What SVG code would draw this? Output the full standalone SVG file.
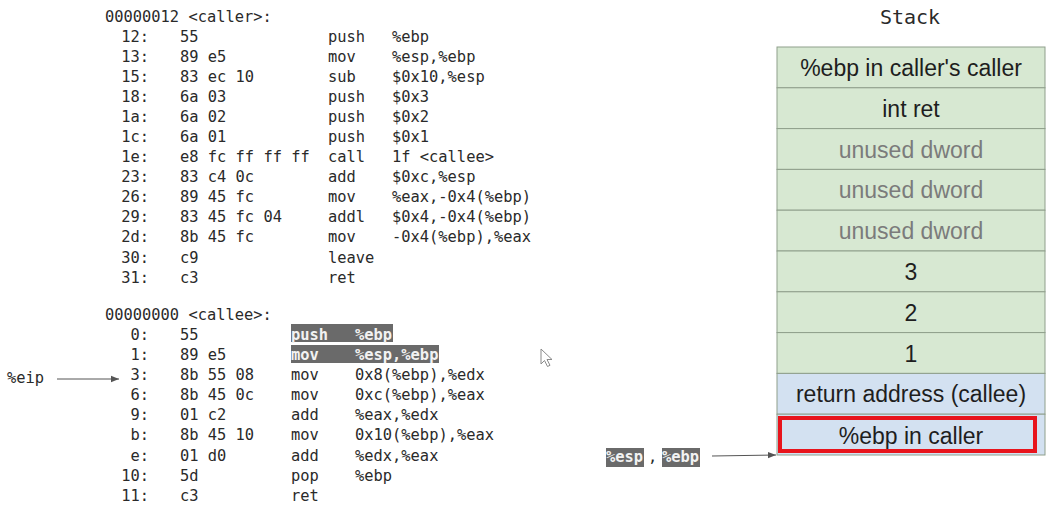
<svg xmlns="http://www.w3.org/2000/svg" width="1053" height="508" viewBox="0 0 1053 508">
<defs>
<style>
.code{font-family:"DejaVu Sans Mono","Liberation Mono",monospace;font-size:15.4px;fill:#2a2a2a}
.addr{text-anchor:end}
.hl{fill:#6a6a6a}
.hlt{fill:#f2f2f2;font-weight:bold}
.cell{stroke:#8f9f8c;stroke-width:1}
.g{fill:#d7e8d2}
.b{fill:#d3e1f1}
.st{font-family:"Liberation Sans",Arial,sans-serif;font-size:23px;fill:#1e1e1e;text-anchor:middle}
.un{fill:#7b7b7b}
.conn{stroke:#555;stroke-width:1;fill:none}
</style>
<marker id="ah" viewBox="0 0 10 10" refX="10" refY="5" markerWidth="8" markerHeight="8" markerUnits="userSpaceOnUse" orient="auto">
<path d="M0,1 L10,5 L0,9 z" fill="#555"/>
</marker>
</defs>
<rect width="1053" height="508" fill="#ffffff"/>

<g id="caller-code" class="code">
<text x="105" y="22">00000012 &lt;caller&gt;:</text>
<text class="addr" x="149" y="42">12:</text><text x="180" y="42">55</text><text x="328" y="42">push</text><text x="392" y="42">%ebp</text>
<text class="addr" x="149" y="62">13:</text><text x="180" y="62">89 e5</text><text x="328" y="62">mov</text><text x="392" y="62">%esp,%ebp</text>
<text class="addr" x="149" y="82">15:</text><text x="180" y="82">83 ec 10</text><text x="328" y="82">sub</text><text x="392" y="82">$0x10,%esp</text>
<text class="addr" x="149" y="102">18:</text><text x="180" y="102">6a 03</text><text x="328" y="102">push</text><text x="392" y="102">$0x3</text>
<text class="addr" x="149" y="122">1a:</text><text x="180" y="122">6a 02</text><text x="328" y="122">push</text><text x="392" y="122">$0x2</text>
<text class="addr" x="149" y="142">1c:</text><text x="180" y="142">6a 01</text><text x="328" y="142">push</text><text x="392" y="142">$0x1</text>
<text class="addr" x="149" y="162">1e:</text><text x="180" y="162">e8 fc ff ff ff</text><text x="328" y="162">call</text><text x="392" y="162">1f &lt;callee&gt;</text>
<text class="addr" x="149" y="182">23:</text><text x="180" y="182">83 c4 0c</text><text x="328" y="182">add</text><text x="392" y="182">$0xc,%esp</text>
<text class="addr" x="149" y="202">26:</text><text x="180" y="202">89 45 fc</text><text x="328" y="202">mov</text><text x="392" y="202">%eax,-0x4(%ebp)</text>
<text class="addr" x="149" y="222">29:</text><text x="180" y="222">83 45 fc 04</text><text x="328" y="222">addl</text><text x="392" y="222">$0x4,-0x4(%ebp)</text>
<text class="addr" x="149" y="242">2d:</text><text x="180" y="242">8b 45 fc</text><text x="328" y="242">mov</text><text x="392" y="242">-0x4(%ebp),%eax</text>
<text class="addr" x="149" y="263">30:</text><text x="180" y="263">c9</text><text x="328" y="263">leave</text>
<text class="addr" x="149" y="283">31:</text><text x="180" y="283">c3</text><text x="328" y="283">ret</text>
</g>

<g id="callee-code" class="code">
<text x="105" y="320">00000000 &lt;callee&gt;:</text>
<rect class="hl" x="291" y="324" width="102" height="18"/>
<rect class="hl" x="291" y="345" width="148" height="18"/>
<text class="addr" x="149" y="340">0:</text><text x="180" y="340">55</text><text class="hlt" x="291" y="340">push</text><text class="hlt" x="355" y="340">%ebp</text>
<text class="addr" x="149" y="360">1:</text><text x="180" y="360">89 e5</text><text class="hlt" x="291" y="360">mov</text><text class="hlt" x="355" y="360">%esp,%ebp</text>
<text class="addr" x="149" y="380">3:</text><text x="180" y="380">8b 55 08</text><text x="291" y="380">mov</text><text x="355" y="380">0x8(%ebp),%edx</text>
<text class="addr" x="149" y="400">6:</text><text x="180" y="400">8b 45 0c</text><text x="291" y="400">mov</text><text x="355" y="400">0xc(%ebp),%eax</text>
<text class="addr" x="149" y="420">9:</text><text x="180" y="420">01 c2</text><text x="291" y="420">add</text><text x="355" y="420">%eax,%edx</text>
<text class="addr" x="149" y="440">b:</text><text x="180" y="440">8b 45 10</text><text x="291" y="440">mov</text><text x="355" y="440">0x10(%ebp),%eax</text>
<text class="addr" x="149" y="461">e:</text><text x="180" y="461">01 d0</text><text x="291" y="461">add</text><text x="355" y="461">%edx,%eax</text>
<text class="addr" x="149" y="481">10:</text><text x="180" y="481">5d</text><text x="291" y="481">pop</text><text x="355" y="481">%ebp</text>
<text class="addr" x="149" y="501">11:</text><text x="180" y="501">c3</text><text x="291" y="501">ret</text>
</g>

<g id="eip-label" class="code">
<text x="7" y="383">%eip</text>
</g>

<g id="esp-ebp-label" class="code">
<rect class="hl" x="606" y="448" width="38" height="19"/>
<rect class="hl" x="662" y="448" width="38" height="19"/>
<text class="hlt" x="606" y="462">%esp</text>
<text x="648" y="462">,</text>
<text class="hlt" x="662" y="462">%ebp</text>
</g>

<g id="stack-title">
<text x="910" y="24" font-family="DejaVu Sans Mono,Liberation Mono,monospace" font-size="20" fill="#2a2a2a" text-anchor="middle">Stack</text>
</g>

<g id="stack">
<g id="row-ebp-callers-caller"><rect class="cell g" x="777" y="47" width="268" height="40.8"/><text class="st" x="911" y="76">%ebp in caller's caller</text></g>
<g id="row-int-ret"><rect class="cell g" x="777" y="87.8" width="268" height="40.8"/><text class="st" x="911" y="117">int ret</text></g>
<g id="row-unused-1"><rect class="cell g" x="777" y="128.6" width="268" height="40.8"/><text class="st un" x="911" y="157.5">unused dword</text></g>
<g id="row-unused-2"><rect class="cell g" x="777" y="169.4" width="268" height="40.8"/><text class="st un" x="911" y="198.3">unused dword</text></g>
<g id="row-unused-3"><rect class="cell g" x="777" y="210.2" width="268" height="40.8"/><text class="st un" x="911" y="239.1">unused dword</text></g>
<g id="row-3"><rect class="cell g" x="777" y="251" width="268" height="40.8"/><text class="st" x="911" y="279.9">3</text></g>
<g id="row-2"><rect class="cell g" x="777" y="291.8" width="268" height="40.8"/><text class="st" x="911" y="320.7">2</text></g>
<g id="row-1"><rect class="cell g" x="777" y="332.6" width="268" height="40.8"/><text class="st" x="911" y="361.5">1</text></g>
<g id="row-return-address"><rect class="cell b" x="777" y="373.4" width="268" height="40.8"/><text class="st" x="911" y="402.3">return address (callee)</text></g>
<g id="row-ebp-in-caller"><rect class="cell b" x="777" y="414.2" width="268" height="40.8"/><rect x="780" y="418" width="255" height="33" fill="none" stroke="#e8141c" stroke-width="4"/><text class="st" x="911" y="444">%ebp in caller</text></g>
</g>

<g id="cursor">
<path d="M541,349 L541,364 L544.5,360.5 L547.5,366.5 L550,365.3 L547,359.5 L552,359.5 Z" fill="#ffffff" stroke="#8a8a8a" stroke-width="1"/>
</g>

<g id="connectors">
<line class="conn" x1="57" y1="379" x2="119" y2="379" marker-end="url(#ah)"/>
<line class="conn" x1="712" y1="456" x2="776" y2="455" marker-end="url(#ah)"/>
</g>
</svg>
